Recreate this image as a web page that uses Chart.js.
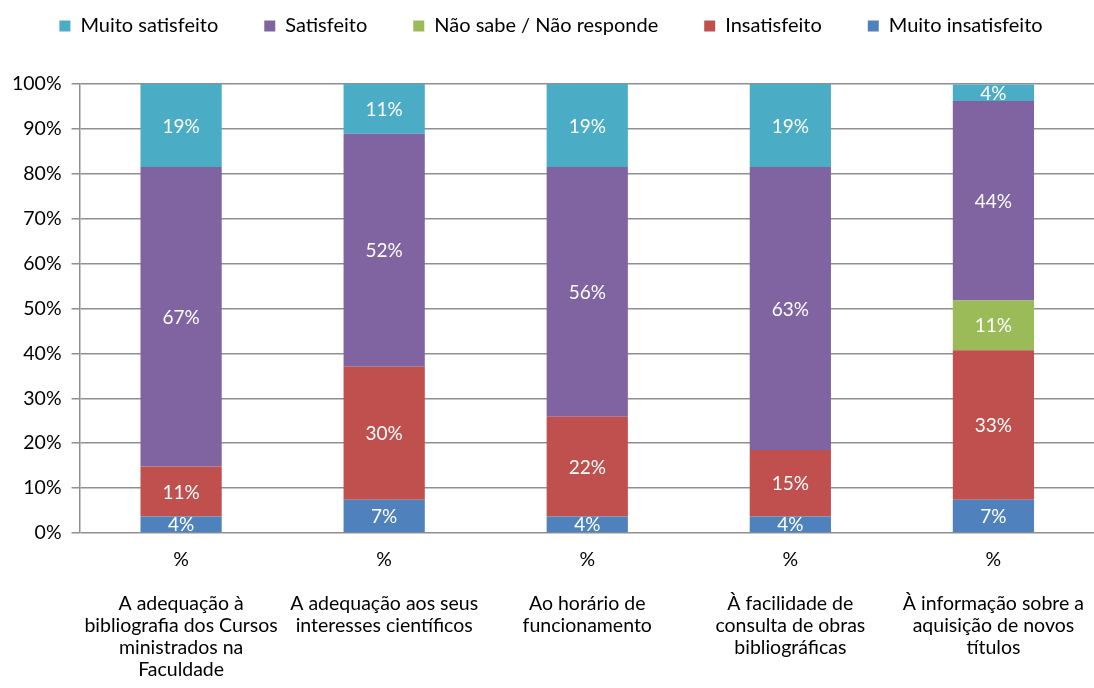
<!DOCTYPE html>
<html>
<head>
<title>Satisfação com a biblioteca</title>
<script src="https://cdn.jsdelivr.net/npm/chart.js"></script>
<style>
  body {
    margin: 0;
    padding: 0;
    background-color: #fff;
    overflow: hidden;
  }
  #container {
    width: 1100px;
    height: 688px;
  }
</style>
</head>
<body>
<div id="container"><canvas id="chart"></canvas></div>

<script>
// categories: "%" sub-label, blank line, then the question text
const categories = [
  ['%', '', 'A adequação à', 'bibliografia dos Cursos', 'ministrados na', 'Faculdade'],
  ['%', '', 'A adequação aos seus', 'interesses científicos'],
  ['%', '', 'Ao horário de', 'funcionamento'],
  ['%', '', 'À facilidade de', 'consulta de obras', 'bibliográficas'],
  ['%', '', 'À informação sobre a', 'aquisição de novos', 'títulos']
];

// series values (percent), stacked bottom to top
const muitoInsatisfeito = [3.7, 7.4, 3.7, 3.7, 7.4];
const insatisfeito = [11.1, 29.6, 22.2, 14.8, 33.3];
const naoSabe = [0, 0, 0, 0, 11.1];
const satisfeito = [66.7, 51.9, 55.6, 63.0, 44.4];
const muitoSatisfeito = [18.5, 11.1, 18.5, 18.5, 3.7];

const yTicks = [0, 10, 20, 30, 40, 50, 60, 70, 80, 90, 100];

const font = 'Lato, "Open Sans", sans-serif';

// white percentage labels in the middle of each segment
const segmentLabels = {
  id: 'segmentLabels',
  afterDatasetsDraw(chart) {
    const ctx = chart.ctx;
    ctx.save();
    ctx.fillStyle = '#fff';
    ctx.font = '19px ' + font;
    ctx.textAlign = 'center';
    ctx.textBaseline = 'middle';
    chart.data.datasets.forEach((ds, i) => {
      const meta = chart.getDatasetMeta(i);
      meta.data.forEach((bar, j) => {
        const v = ds.data[j];
        if (!v) return;
        const y = (bar.y + bar.base) / 2;
        ctx.fillText(Math.round(v) + '%', bar.x, y + 1);
      });
    });
    ctx.restore();
  }
};

// keep legend on one row, leave room between legend and plot area
const legendGap = {
  id: 'legendGap',
  beforeLayout(chart) {
    const lg = chart.legend;
    if (lg && !lg._gapPatched) {
      const fit = lg.fit.bind(lg);
      lg.fit = function () {
        const mw = this.maxWidth;
        this.maxWidth = mw + 60;
        fit();
        this.maxWidth = mw;
        this.width = Math.min(this.width, mw);
        this.height += 38;
      };
      lg._gapPatched = true;
    }
  }
};

new Chart(document.getElementById('chart'), {
  type: 'bar',
  data: {
    labels: categories,
    datasets: [
      { label: 'Muito insatisfeito', data: muitoInsatisfeito, backgroundColor: '#4F81BD' },
      { label: 'Insatisfeito', data: insatisfeito, backgroundColor: '#C0504D' },
      { label: 'Não sabe / Não responde', data: naoSabe, backgroundColor: '#9BBB59' },
      { label: 'Satisfeito', data: satisfeito, backgroundColor: '#8064A2' },
      { label: 'Muito satisfeito', data: muitoSatisfeito, backgroundColor: '#4BACC6' }
    ]
  },
  options: {
    responsive: true,
    maintainAspectRatio: false,
    animation: false,
    layout: { padding: { top: -30, left: 2, right: 0, bottom: -9 } },
    datasets: {
      bar: { categoryPercentage: 1, barPercentage: 0.4, borderWidth: 0 }
    },
    plugins: {
      legend: {
        reverse: true,
        labels: {
          boxWidth: 11,
          boxHeight: 11,
          padding: 46,
          color: '#000',
          font: { family: font, size: 20 }
        }
      },
      tooltip: { enabled: false }
    },
    scales: {
      x: {
        stacked: true,
        grid: { display: false, drawTicks: false },
        border: { display: false },
        ticks: {
          color: '#000',
          padding: 16,
          maxRotation: 0,
          autoSkip: false,
          font: { family: font, size: 19.5, lineHeight: '22px' }
        }
      },
      y: {
        stacked: true,
        min: 0,
        max: 100,
        afterBuildTicks(scale) {
          scale.ticks = yTicks.map(v => ({ value: v }));
        },
        grid: { color: '#8f8f8f', lineWidth: 1.5, tickLength: 8 },
        border: { color: '#8f8f8f', width: 1.5 },
        ticks: {
          color: '#000',
          padding: 10,
          font: { family: font, size: 19.5 },
          callback: v => v + '%'
        }
      }
    }
  },
  plugins: [segmentLabels, legendGap]
});
</script>
</body>
</html>
